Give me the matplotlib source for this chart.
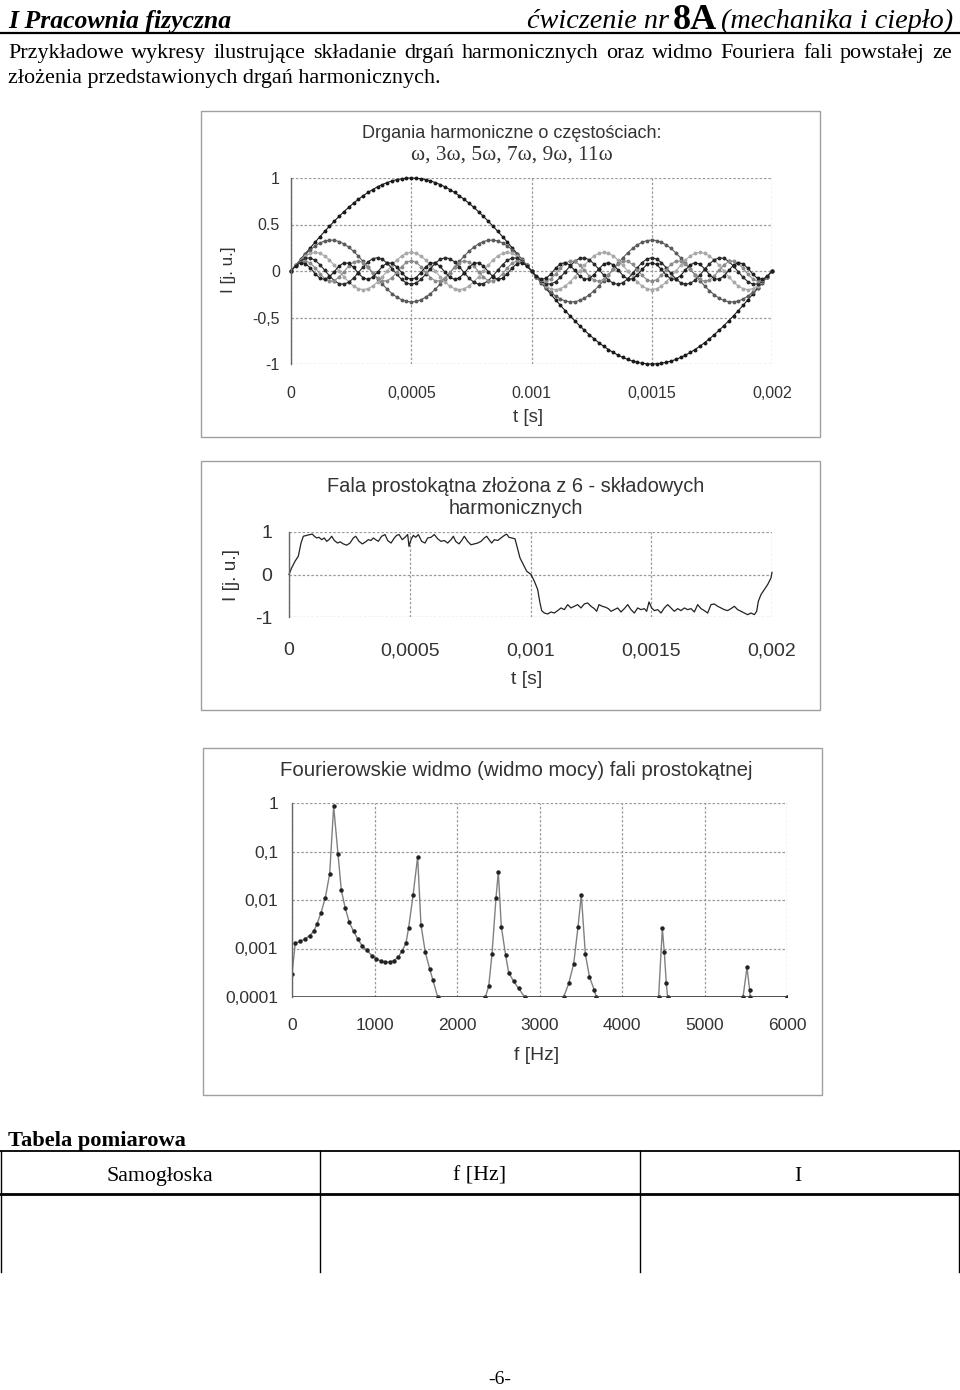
import numpy as np
import matplotlib
matplotlib.use('Agg')
import matplotlib.pyplot as plt
from matplotlib.lines import Line2D
from matplotlib.patches import Rectangle

# ---------------- data ----------------
HARMONIC_ORDERS = [1, 3, 5, 7, 9, 11]
HARMONIC_AMPLITUDES = [1.0, 0.333, 0.2, 0.143, 0.111, 0.091]
HARMONIC_COLORS = ['#1a1a1a', '#5a5a5a', '#a8a8a8', '#2a2a2a', '#8a8a8a', '#202020']
FUNDAMENTAL_HZ = 500
SAMPLE_STEP_S = 2e-5
T_END_S = 0.002

# square wave (time in microseconds, value in j. u.)
SQUARE_T_US = [0, 11.0, 24.8, 38.6, 49.7, 59.4, 73.2, 87.0, 96.6, 104.9, 114.6, 124.2,
               135.3, 146.3, 156.0, 165.6, 176.7, 187.7, 201.5, 211.2, 225.0, 238.8, 252.6,
               266.4, 276.1, 289.9, 303.7, 317.5, 328.5, 339.6, 349.2, 358.9, 369.9, 383.7,
               397.5, 408.6, 422.4, 436.2, 445.8, 455.5, 469.3, 480.3, 491.4, 496.9, 505.2,
               514.9, 524.5, 535.6, 549.4, 563.2, 574.2, 588.0, 601.8, 615.6, 629.4, 643.2,
               657.0, 670.8, 680.5, 690.2, 704.0, 715.0, 726.0, 739.8, 753.6, 767.4, 781.2,
               795.1, 808.9, 818.5, 828.2, 839.2, 850.3, 864.1, 877.9, 891.7, 901.3, 911.0,
               922.0, 935.8, 945.5, 956.5, 970.4, 984.2, 1002.1,
               1015.9, 1029.7, 1039.3, 1046.3, 1057.3, 1071.1, 1084.9, 1098.7, 1112.5,
               1126.3, 1140.1, 1153.9, 1167.7, 1181.5, 1195.3, 1209.1, 1222.9, 1236.7,
               1250.5, 1264.3, 1274.0, 1283.6, 1297.4, 1311.3, 1322.3, 1333.3, 1347.1,
               1360.9, 1374.7, 1388.5, 1402.4, 1416.2, 1430.0, 1443.8, 1457.6, 1471.4,
               1481.0, 1490.7, 1501.7, 1512.8, 1526.6, 1540.4, 1554.2, 1568.0, 1581.8,
               1595.6, 1609.4, 1623.2, 1637.0, 1650.8, 1664.6, 1678.4, 1692.2, 1706.0,
               1719.8, 1733.6, 1747.4, 1761.2, 1775.0, 1788.8, 1802.6, 1816.4, 1830.2,
               1844.0, 1857.8, 1871.6, 1885.4, 1899.2, 1913.1, 1926.9, 1936.5, 1943.4,
               1954.5, 1968.3, 1982.1, 1995.9, 2000.0]
SQUARE_I = [0.0, 0.156, 0.31, 0.43, 0.74, 0.90, 0.92, 0.94, 0.95, 0.90, 0.86, 0.875,
            0.82, 0.86, 0.78, 0.82, 0.90, 0.80, 0.74, 0.77, 0.72, 0.69, 0.74,
            0.86, 0.90, 0.78, 0.72, 0.77, 0.82, 0.80, 0.86, 0.82, 0.78, 0.90,
            0.94, 0.80, 0.74, 0.86, 0.92, 0.94, 0.82, 0.875, 0.94, 0.66, 0.82,
            0.92, 0.875, 0.94, 0.78, 0.74, 0.86, 0.875, 0.94, 0.84, 0.78, 0.80,
            0.74, 0.82, 0.90, 0.78, 0.72, 0.80, 0.90, 0.78, 0.70, 0.72, 0.74,
            0.78, 0.86, 0.90, 0.82, 0.74, 0.82, 0.80, 0.86, 0.92, 0.95, 0.875,
            0.86, 0.84, 0.625, 0.39, 0.234, 0.078, 0.0,
            -0.157, -0.354, -0.669, -0.85, -0.906, -0.929, -0.882, -0.906, -0.85,
            -0.787, -0.827, -0.709, -0.787, -0.748, -0.709, -0.787, -0.693, -0.669,
            -0.748, -0.803, -0.866, -0.709, -0.748, -0.772, -0.803, -0.866, -0.827,
            -0.787, -0.882, -0.803, -0.709, -0.827, -0.906, -0.787, -0.827, -0.803,
            -0.866, -0.646, -0.787, -0.85, -0.827, -0.906, -0.787, -0.709, -0.787,
            -0.866, -0.803, -0.85, -0.787, -0.827, -0.803, -0.882, -0.709, -0.803,
            -0.85, -0.906, -0.709, -0.693, -0.748, -0.787, -0.827, -0.85, -0.803,
            -0.748, -0.827, -0.866, -0.906, -0.945, -0.906, -0.945, -0.866, -0.63,
            -0.472, -0.354, -0.236, -0.079, 0.05]

SPECTRUM_FREQ_HZ = [0, 40, 101, 162, 214, 263, 303, 352, 404, 457, 505, 558, 598, 646,
                    695, 747, 796, 848, 909, 970, 1022, 1079, 1131, 1184, 1232, 1285,
                    1333, 1382, 1414, 1467, 1523, 1563, 1616, 1669, 1709, 1766,
                    2345, 2385, 2424, 2473, 2501, 2537, 2590, 2626, 2687, 2747, 2820,
                    3293, 3354, 3414, 3467, 3507, 3556, 3606, 3663, 3688,
                    4444, 4489, 4513, 4537, 4553,
                    5467, 5515, 5547, 5555, 6000]
SPECTRUM_POWER = [3.0e-4, 1.29e-3, 1.41e-3, 1.58e-3, 1.85e-3, 2.25e-3, 3.2e-3, 5.5e-3,
                  0.0112, 0.035, 0.855, 0.087, 0.0158, 6.7e-3, 3.45e-3, 2.25e-3, 1.58e-3,
                  1.15e-3, 9.1e-4, 7.1e-4, 6.1e-4, 5.5e-4, 5.2e-4, 5.3e-4, 5.6e-4, 6.6e-4,
                  8.8e-4, 1.3e-3, 2.7e-3, 0.0124, 0.078, 3.1e-3, 8.3e-4, 3.8e-4, 2.2e-4, 1e-4,
                  1e-4, 1.7e-4, 7.6e-4, 0.0112, 0.038, 2.8e-3, 7.2e-4, 3.2e-4, 2.1e-4, 1.5e-4, 1e-4,
                  1e-4, 1.9e-4, 4.8e-4, 2.8e-3, 0.0128, 7.6e-4, 2.6e-4, 1.4e-4, 1e-4,
                  1e-4, 2.6e-3, 8.3e-4, 1.9e-4, 1e-4,
                  1e-4, 4.1e-4, 1.4e-4, 1e-4, 1e-4]

TIME_TICKS = [0, 0.0005, 0.001, 0.0015, 0.002]
TIME_LABELS_1 = ['0', '0,0005', '0.001', '0,0015', '0,002']
TIME_LABELS_2 = ['0', '0,0005', '0,001', '0,0015', '0,002']
I_TICKS_1 = [1, 0.5, 0, -0.5, -1]
I_LABELS_1 = ['1', '0.5', '0', '-0,5', '-1']
I_TICKS_2 = [1, 0, -1]
I_LABELS_2 = ['1', '0', '-1']
FREQ_TICKS = [0, 1000, 2000, 3000, 4000, 5000, 6000]
FREQ_LABELS = ['0', '1000', '2000', '3000', '4000', '5000', '6000']
POWER_TICKS = [1, 0.1, 0.01, 0.001, 0.0001]
POWER_LABELS = ['1', '0,1', '0,01', '0,001', '0,0001']
TABLE_HEADERS = ['Samogłoska', 'f [Hz]', 'I']

# ---------------- figure ----------------
W, H = 960, 1390
fig = plt.figure(figsize=(W / 100, H / 100), dpi=100)
renderer = fig.canvas.get_renderer()
SERIF = ['Liberation Serif', 'DejaVu Serif']
SANS = ['Liberation Sans', 'DejaVu Sans']
CH = '#333333'


def fx(px):
    return px / W


def fy(py):
    return 1 - py / H


def measure(s, size, **kw):
    t = fig.text(0, 0, s, fontsize=size, **kw)
    w = t.get_window_extent(renderer).width
    t.remove()
    return w


def fit_size(s, width, **kw):
    return 10 * width / measure(s, 10, **kw)


def place(s, x, y, width=None, size=10, ha='center', va='center', **kw):
    if width is not None:
        size = fit_size(s, width, **kw)
    return fig.text(fx(x), fy(y), s, fontsize=size, ha=ha, va=va, **kw)


def hline(x0, x1, y, lw=1.0, color='black'):
    fig.add_artist(Line2D([fx(x0), fx(x1)], [fy(y), fy(y)], lw=lw, color=color))


def vline(x, y0, y1, lw=1.0, color='black'):
    fig.add_artist(Line2D([fx(x), fx(x)], [fy(y0), fy(y1)], lw=lw, color=color))


# ---------------- header ----------------
place('I Pracownia fizyczna', 8, 28, width=224, ha='left', va='baseline',
      family=SERIF, style='italic', weight='bold')
s_it = fit_size('(mechanika i ciepło)', 233, family=SERIF, style='italic')
s_8a = 26
x = 953
w3 = measure('(mechanika i ciepło)', s_it, family=SERIF, style='italic')
place('(mechanika i ciepło)', x, 28, size=s_it, ha='right', va='baseline', family=SERIF, style='italic')
x -= w3 + 4
w2 = measure('8A', s_8a, family=SERIF, weight='bold')
place('8A', x, 29, size=s_8a, ha='right', va='baseline', family=SERIF, weight='bold')
x -= w2 + 4
place('ćwiczenie nr', x, 28, size=s_it, ha='right', va='baseline', family=SERIF, style='italic')
hline(0, 960, 33, lw=1.6)

line1 = 'Przykładowe wykresy ilustrujące składanie drgań harmonicznych oraz widmo Fouriera fali powstałej ze'
line2 = 'złożenia przedstawionych drgań harmonicznych.'
s_par = fit_size(line2, 433, family=SERIF)
words = line1.split()
ws = [measure(w, s_par, family=SERIF) for w in words]
gap = (952 - 8 - sum(ws)) / (len(words) - 1)
x = 8
for w, wd in zip(words, ws):
    place(w, x, 58, size=s_par, ha='left', va='baseline', family=SERIF)
    x += wd + gap
place(line2, 8, 83, size=s_par, ha='left', va='baseline', family=SERIF)


# ---------------- chart helpers ----------------
def frame(x0, y0, x1, y1):
    fig.add_artist(Rectangle((fx(x0), fy(y1)), fx(x1) - fx(x0), fy(y0) - fy(y1),
                             fill=False, ec='#a0a0a0', lw=1.0))


def make_axes(x0, x1, ytop, ybot):
    ax = fig.add_axes([fx(x0), fy(ybot), fx(x1) - fx(x0), fy(ytop) - fy(ybot)])
    ax.set_facecolor('none')
    for s in ['top', 'right', 'bottom']:
        ax.spines[s].set_visible(False)
    ax.spines['left'].set_color('#666666')
    ax.spines['left'].set_linewidth(1.0)
    ax.grid(True, color='#9a9a9a', linestyle=(0, (2, 1.5)), lw=0.9)
    ax.set_axisbelow(True)
    return ax


# ---------------- chart 1: harmonics ----------------
t = np.arange(0, T_END_S + SAMPLE_STEP_S / 2, SAMPLE_STEP_S)
omega = 2 * np.pi * FUNDAMENTAL_HZ
frame(201, 111, 820, 437)
ax1 = make_axes(291, 772, 178, 364)
for n, a, c in zip(HARMONIC_ORDERS, HARMONIC_AMPLITUDES, HARMONIC_COLORS):
    ax1.plot(t, a * np.sin(n * omega * t), color=c, lw=0.8, marker='o', ms=1.8,
             mec=c, mfc=c, clip_on=False)
ax1.set_xlim(0, T_END_S)
ax1.set_ylim(-1, 1)
ax1.set_xticks(TIME_TICKS, TIME_LABELS_1)
ax1.set_yticks(I_TICKS_1, I_LABELS_1)
ax1.tick_params(length=0, labelsize=11.5, labelcolor=CH, pad=8)
ax1.tick_params(axis='x', pad=16)
for lab in ax1.get_xticklabels() + ax1.get_yticklabels():
    lab.set_family(SANS)
place('Drgania harmoniczne o częstościach:', 512, 133, width=300, family=SANS, color=CH)
place('ω, 3ω, 5ω, 7ω, 9ω, 11ω', 512, 155, width=199, family=SERIF, color=CH)
place('I [j. u.]', 228, 270, size=fit_size('I [j. u.]', 46, family=SANS), rotation=90,
      family=SANS, color=CH)
place('t [s]', 528, 418, width=30, family=SANS, color=CH)

# ---------------- chart 2: square wave ----------------
frame(201, 461, 820, 710)
ax2 = make_axes(289, 772, 532, 617)
ax2.plot(np.array(SQUARE_T_US) * 1e-6, SQUARE_I, color='#222222', lw=0.9, clip_on=False)
ax2.set_xlim(0, T_END_S)
ax2.set_ylim(-1, 1)
ax2.set_xticks(TIME_TICKS, TIME_LABELS_2)
ax2.set_yticks(I_TICKS_2, I_LABELS_2)
ax2.tick_params(length=0, labelsize=14, labelcolor=CH, pad=12)
ax2.tick_params(axis='x', pad=18)
for lab in ax2.get_xticklabels() + ax2.get_yticklabels():
    lab.set_family(SANS)
place('Fala prostokątna złożona z 6 - składowych', 516, 487, width=378, family=SANS, color=CH)
place('harmonicznych', 516, 509, width=135, family=SANS, color=CH)
place('I [j. u.]', 232, 575, size=fit_size('I [j. u.]', 52, family=SANS), rotation=90,
      family=SANS, color=CH)
place('t [s]', 527, 679, width=31, family=SANS, color=CH)

# ---------------- chart 3: spectrum ----------------
frame(203, 748, 822, 1095)
ax3 = make_axes(292, 787, 803, 997)
ax3.set_yscale('log')
ax3.plot(SPECTRUM_FREQ_HZ, SPECTRUM_POWER, color='#808080', lw=1.0, marker='o', ms=2.2,
         mec='#222222', mfc='#222222')
ax3.set_xlim(0, 6000)
ax3.set_ylim(1e-4, 1)
ax3.set_xticks(FREQ_TICKS, FREQ_LABELS)
ax3.set_yticks(POWER_TICKS, POWER_LABELS)
ax3.minorticks_off()
ax3.tick_params(length=0, labelsize=12.5, labelcolor=CH, pad=10)
ax3.tick_params(axis='x', pad=15)
for lab in ax3.get_xticklabels() + ax3.get_yticklabels():
    lab.set_family(SANS)
ax3.axhline(1e-4, color='#444444', lw=1.2)
place('Fourierowskie widmo (widmo mocy) fali prostokątnej', 516, 770, width=475,
      family=SANS, color=CH)
place('f [Hz]', 537, 1055, width=45, family=SANS, color=CH)

# ---------------- table ----------------
place('Tabela pomiarowa', 8, 1146, width=178, ha='left', va='baseline', family=SERIF, weight='bold')
hline(0, 960, 1151, lw=1.3)
hline(0, 960, 1194, lw=2.0)
for xc in [1, 320, 640, 959]:
    vline(xc, 1151, 1272, lw=1.0)
s_tab = fit_size('Samogłoska', 107, family=SERIF)
for hdr, xc in zip(TABLE_HEADERS, [160, 480, 798]):
    place(hdr, xc, 1181, size=s_tab, ha='center', va='baseline', family=SERIF)

place('-6-', 500, 1384, size=14, ha='center', va='baseline', family=SERIF)

fig.savefig('out.png', dpi=100)
